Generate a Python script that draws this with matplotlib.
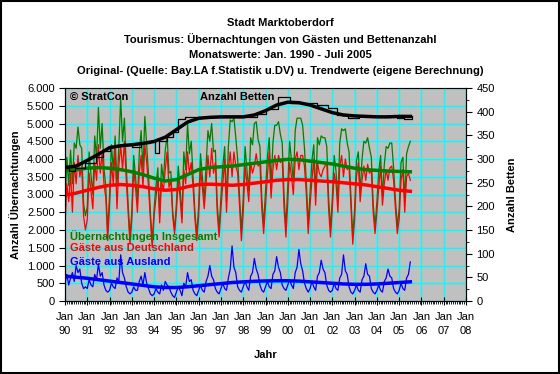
import numpy as np
import matplotlib
matplotlib.use("Agg")
import matplotlib.pyplot as plt
from matplotlib.ticker import FixedLocator, FuncFormatter, MultipleLocator
from matplotlib.patches import Rectangle

plt.rcParams['font.family'] = ['Liberation Sans', 'DejaVu Sans']

# Monatswerte Jan 1990 - Jul 2005 (geschaetzt aus dem Bild)
deutschland = [
    2100, 3300, 2800, 3600, 2500, 3900, 3300, 4100, 3500, 3800, 2400, 2000,  # 1990
    2300, 3600, 3100, 2600, 3900, 3400, 4400, 3600, 4200, 3300, 2900, 1700,  # 1991
    2700, 3900, 3300, 4300, 2600, 3800, 4400, 3700, 4500, 3400, 2500, 1600,  # 1992
    2300, 3700, 3200, 2500, 3600, 4100, 3200, 4400, 3900, 3200, 2300, 1500,  # 1993
    2400, 2900, 3500, 2200, 3400, 3100, 3700, 4200, 3200, 3400, 2400, 1900,  # 1994
    2500, 3400, 2900, 2200, 3700, 3300, 4200, 3600, 3900, 3200, 2300, 1700,  # 1995
    2400, 3700, 3200, 2600, 3300, 4100, 3500, 4300, 3600, 3900, 2500, 1800,  # 1996
    2600, 3300, 4000, 2500, 3700, 4200, 3500, 4200, 3800, 3600, 2700, 1700,  # 1997
    2500, 3800, 3300, 2800, 3900, 3600, 3800, 4150, 3800, 3900, 2600, 1900,  # 1998
    2700, 3500, 4200, 2900, 3700, 4100, 3700, 4100, 3900, 4000, 2600, 1800,  # 1999
    2800, 3900, 3500, 3000, 4000, 4200, 3700, 4100, 4100, 3800, 3000, 1900,  # 2000
    2700, 3400, 4000, 2700, 3900, 3600, 3500, 3700, 3800, 3900, 2600, 1800,  # 2001
    2600, 3600, 3300, 2500, 3800, 4100, 3500, 4000, 3700, 3800, 2700, 1600,  # 2002
    2300, 3500, 3900, 2800, 3400, 3800, 3400, 3850, 3600, 3700, 2500, 1900,  # 2003
    2500, 3200, 3800, 2700, 3300, 3700, 3400, 3750, 3800, 3400, 2600, 1900,  # 2004
    2300, 3400, 3700, 2500, 3500, 3600, 3400,                                # 2005
]
ausland = [
    500, 750, 450, 650, 800, 550, 1000, 800, 900, 500, 350, 400,
    350, 600, 450, 400, 750, 600, 1050, 700, 800, 450, 300, 250,
    300, 500, 400, 350, 650, 550, 1300, 800, 650, 400, 250, 200,
    250, 400, 300, 300, 550, 700, 450, 800, 500, 350, 200, 150,
    200, 350, 250, 200, 450, 300, 550, 450, 400, 250, 150, 100,
    250, 400, 300, 150, 500, 400, 800, 550, 600, 300, 200, 150,
    300, 450, 300, 250, 550, 700, 1000, 700, 600, 350, 250, 200,
    350, 500, 350, 300, 650, 900, 1550, 950, 800, 400, 300, 250,
    400, 550, 400, 300, 700, 800, 1200, 900, 750, 450, 300, 250,
    400, 550, 400, 350, 750, 850, 1250, 950, 800, 450, 350, 300,
    450, 600, 450, 350, 800, 950, 1450, 1050, 850, 500, 350, 250,
    350, 550, 400, 300, 700, 800, 1150, 900, 800, 450, 300, 250,
    300, 500, 350, 300, 650, 750, 1300, 850, 750, 400, 250, 200,
    300, 450, 300, 250, 600, 700, 1050, 750, 700, 350, 250, 200,
    300, 450, 300, 250, 550, 650, 900, 700, 650, 350, 250, 200,
    300, 500, 350, 300, 650, 750, 1100,
]
# Insgesamt = Inland + Ausland
insgesamt = [d + a for d, a in zip(deutschland, ausland)]

# Trendwerte (Halbjahresstuetzpunkte)
trend_jahr = [1990.0, 1990.5, 1991.0, 1991.5, 1992.0, 1992.5, 1993.0, 1993.5,
              1994.0, 1994.5, 1995.0, 1995.5, 1996.0, 1996.5, 1997.0, 1997.5,
              1998.0, 1998.5, 1999.0, 1999.5, 2000.0, 2000.5, 2001.0, 2001.5,
              2002.0, 2002.5, 2003.0, 2003.5, 2004.0, 2004.5, 2005.0, 2005.5]
trend_ges = [3680, 3700, 3740, 3760, 3740, 3700, 3640, 3560, 3460, 3380, 3420, 3560,
             3700, 3760, 3780, 3800, 3840, 3880, 3920, 3960, 3990, 3980, 3940, 3900,
             3860, 3800, 3740, 3700, 3680, 3660, 3650, 3640]
trend_de = [2980, 3040, 3120, 3200, 3260, 3280, 3260, 3220, 3160, 3120, 3140, 3220,
            3280, 3290, 3280, 3260, 3280, 3320, 3360, 3400, 3420, 3420, 3400, 3380,
            3360, 3330, 3300, 3270, 3220, 3170, 3120, 3090]
trend_aus = [700, 670, 640, 600, 560, 520, 480, 440, 400, 380, 380, 400,
             430, 460, 490, 520, 540, 555, 565, 570, 570, 560, 540, 520,
             500, 480, 470, 470, 480, 500, 520, 540]
trend_betten = [282, 285, 297, 310, 324, 328, 330, 333, 337, 346, 362, 378,
                386, 388, 389, 389, 389, 393, 402, 414, 420, 419, 414, 406,
                398, 393, 391, 390, 389, 389, 390, 390]

# Bettenanzahl (Aenderungszeitpunkte)
betten_jahr = [1990.0, 1990.2, 1990.45, 1990.9, 1991.4, 1991.7, 1992.0, 1992.6,
               1993.0, 1993.4, 1993.8, 1994.05, 1994.2, 1994.6, 1994.85, 1995.05,
               1995.4, 1998.6, 1999.0, 1999.55, 2000.1, 2001.3, 2001.8, 2002.2,
               2002.7, 2003.2, 2004.9, 2005.2, 2005.58]
betten = [282, 274, 282, 292, 304, 316, 328, 332, 326, 333, 337, 312, 338, 346, 356,
          385, 388, 396, 405, 432, 419, 414, 408, 392, 386, 390, 387, 384, 390]

jahre = ['90', '91', '92', '93', '94', '95', '96', '97', '98', '99',
         '00', '01', '02', '03', '04', '05', '06', '07', '08']

monate = 1990 + np.arange(len(deutschland)) / 12.0

fig = plt.figure(figsize=(5.6, 3.74), dpi=100)
fig.patches.append(Rectangle((0.001, 0.002), 0.997, 0.995, transform=fig.transFigure,
                             fill=False, edgecolor='black', linewidth=1.5))
ax = fig.add_axes([65/560, 1-301/374, 401/560, 213/374])
ax.set_facecolor('#C0C0C0')

ax.plot(monate, insgesamt, color='#008000', lw=0.9)
ax.plot(monate, deutschland, color='#FF0000', lw=0.9)
ax.plot(monate, ausland, color='#0000FF', lw=0.9)
ax.plot(trend_jahr, trend_ges, color='#008000', lw=2.5)
ax.plot(trend_jahr, trend_de, color='#FF0000', lw=2.5)
ax.plot(trend_jahr, trend_aus, color='#0000FF', lw=2.5)

ax.set_xlim(1990, 2008)
ax.set_ylim(0, 6000)
ax.set_axisbelow(True)
ax.xaxis.set_major_locator(FixedLocator(np.arange(1990, 2009)))
ax.xaxis.set_minor_locator(MultipleLocator(1/12))
ax.set_xticklabels(['Jan\n' + j for j in jahre], linespacing=1.45)
ax.yaxis.set_major_locator(MultipleLocator(500))
ax.yaxis.set_major_formatter(FuncFormatter(lambda v, p: f"{int(v):,}".replace(",", ".")))
ax.grid(True, color='#00FFFF', lw=1)
ax.tick_params(axis='both', labelsize=8, length=4, width=0.8)
ax.tick_params(axis='x', which='major', direction='inout', length=6, pad=5)
ax.tick_params(axis='x', which='minor', direction='out', length=2, width=0.6)
for s in ['left', 'bottom', 'right']:
    ax.spines[s].set_color('black')
ax.spines['top'].set_color('#808080')

ax.set_ylabel('Anzahl Übernachtungen', fontsize=8, fontweight='bold', labelpad=4)
ax.set_xlabel('Jahr', fontsize=8, fontweight='bold', labelpad=10)

ax2 = ax.twinx()
ax2.step(betten_jahr, betten, where='post', color='black', lw=0.9)
ax2.plot(trend_jahr, trend_betten, color='black', lw=2.5)
ax2.set_ylim(0, 450)
ax2.yaxis.set_major_locator(MultipleLocator(50))
ax2.yaxis.set_minor_locator(MultipleLocator(25))
ax2.tick_params(axis='y', labelsize=8, length=4, width=0.8)
ax2.tick_params(axis='y', which='minor', length=2)
ax2.set_ylabel('Anzahl Betten', fontsize=8, fontweight='bold', labelpad=9)

ax.text(0.012, 0.958, '© StratCon', transform=ax.transAxes, fontsize=8,
        fontweight='bold', va='center', ha='left')
ax.text(0.337, 0.958, 'Anzahl Betten', transform=ax.transAxes, fontsize=8,
        fontweight='bold', va='center', ha='left')
ax.text(0.012, 0.305, 'Übernachtungen Insgesamt', transform=ax.transAxes, fontsize=8,
        fontweight='bold', color='#008000', va='center', ha='left')
ax.text(0.012, 0.249, 'Gäste aus Deutschland', transform=ax.transAxes, fontsize=8,
        fontweight='bold', color='#FF0000', va='center', ha='left')
ax.text(0.012, 0.183, 'Gäste aus Ausland', transform=ax.transAxes, fontsize=8,
        fontweight='bold', color='#0000FF', va='center', ha='left')

titel = ['Stadt Marktoberdorf',
         'Tourismus: Übernachtungen von Gästen und Bettenanzahl',
         'Monatswerte: Jan. 1990 - Juli 2005',
         'Original- (Quelle: Bay.LA f.Statistik u.DV) u. Trendwerte (eigene Berechnung)']
for i, t in enumerate(titel):
    fig.text(0.5, 1 - (23 + 16*i)/374, t, ha='center', va='center',
             fontsize=8, fontweight='bold')

fig.savefig('out.png', dpi=100)
